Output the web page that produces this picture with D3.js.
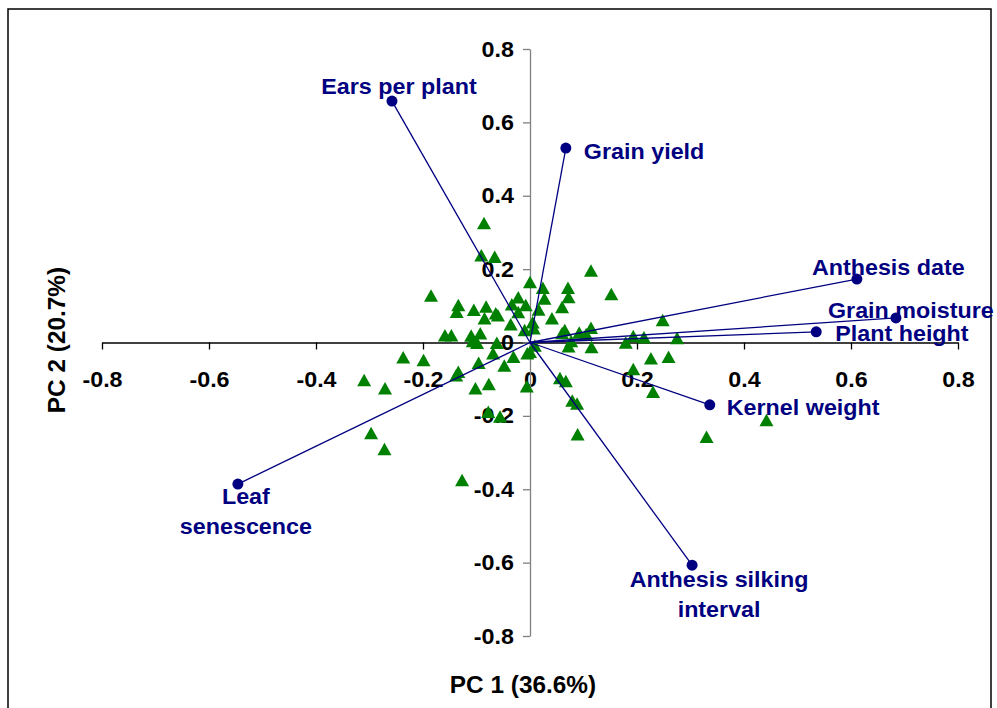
<!DOCTYPE html>
<html>
<head>
<meta charset="utf-8">
<script src="https://cdn.jsdelivr.net/npm/d3@7"></script>
<style>
  body { margin: 0; background: #fff; }
  svg { display: block; font-family: Arial, "Liberation Sans", sans-serif; font-weight: bold; }
</style>
</head>
<body>
<svg width="997" height="708"></svg>
<script>
// trait loadings (PC1, PC2)
const traits = ['Ears per plant', 'Grain yield', 'Anthesis date', 'Grain moisture',
  'Plant height', 'Kernel weight', 'Anthesis silking interval', 'Leaf senescence'];
const loadPC1 = [-0.258, 0.067, 0.611, 0.684, 0.535, 0.336, 0.303, -0.546];
const loadPC2 = [0.658, 0.530, 0.173, 0.067, 0.029, -0.170, -0.607, -0.386];

// genotype scores
const scorePC1 = [-0.086, -0.091, -0.066, 0.114, 0.000, 0.024, 0.071, 0.152, -0.185, 0.072,
  0.027, -0.022, -0.034, -0.008, -0.134, -0.082, -0.105, -0.137, 0.060, 0.016,
  -0.064, -0.060, -0.022, -0.085, 0.041, 0.005, -0.036, -0.010, 0.007, 0.060,
  0.065, 0.092, 0.114, 0.105, -0.159, -0.147, -0.110, -0.093, -0.107, -0.099,
  -0.062, 0.077, 0.072, 0.115, 0.179, 0.193, 0.213, 0.248, 0.275, 0.000,
  0.009, -0.005, -0.237, -0.199, -0.069, -0.031, -0.096, -0.048, -0.134, -0.138,
  -0.310, -0.271, -0.102, -0.077, -0.006, 0.056, 0.067, 0.193, 0.226, 0.259,
  0.230, 0.079, 0.088, -0.078, -0.056, -0.297, -0.272, -0.127, 0.089, 0.330, 0.442];
const scorePC2 = [0.326, 0.238, 0.234, 0.196, 0.165, 0.149, 0.149, 0.132, 0.128, 0.124,
  0.120, 0.123, 0.104, 0.102, 0.102, 0.098, 0.089, 0.084, 0.097, 0.090,
  0.080, 0.074, 0.083, 0.066, 0.066, 0.055, 0.050, 0.034, 0.039, 0.026,
  0.034, 0.027, 0.040, 0.023, 0.020, 0.020, 0.019, 0.025, 0.004, -0.001,
  -0.001, 0.004, -0.010, -0.012, 0.000, 0.018, 0.014, 0.061, 0.012, -0.025,
  -0.008, -0.029, -0.040, -0.048, -0.029, -0.039, -0.055, -0.063, -0.080, -0.089,
  -0.102, -0.125, -0.125, -0.113, -0.119, -0.097, -0.105, -0.072, -0.043, -0.039,
  -0.134, -0.158, -0.166, -0.189, -0.202, -0.247, -0.290, -0.375, -0.250, -0.257, -0.211];

const tickVals = [-0.8, -0.6, -0.4, -0.2, 0, 0.2, 0.4, 0.6, 0.8];

// label placement relative to each loading point (px)
const labelPos = {
  'Ears per plant': { dx: 7, dy: -7, anchor: 'middle', lines: ['Ears per plant'] },
  'Grain yield': { dx: 18, dy: 11, anchor: 'start', lines: ['Grain yield'] },
  'Anthesis date': { dx: -45, dy: -4, anchor: 'start', lines: ['Anthesis date'] },
  'Grain moisture': { dx: -68, dy: 0, anchor: 'start', lines: ['Grain moisture'] },
  'Plant height': { dx: 19, dy: 9, anchor: 'start', lines: ['Plant height'] },
  'Kernel weight': { dx: 17, dy: 10, anchor: 'start', lines: ['Kernel weight'] },
  'Anthesis silking interval': { dx: 27, dy: 22, anchor: 'middle', lines: ['Anthesis silking', 'interval'] },
  'Leaf senescence': { dx: 8, dy: 20, anchor: 'middle', lines: ['Leaf', 'senescence'] }
};

const svg = d3.select('svg');
const navy = '#000080';
const green = '#008000';
const stretch = 1.06;   // text in the original is a bit wider than Arial

const x = d3.scaleLinear().domain([-0.8, 0.8]).range([102, 958]);
const y = d3.scaleLinear().domain([-0.8, 0.8]).range([636, 49]);

// outer frame
svg.append('rect')
  .attr('x', 8).attr('y', 9)
  .attr('width', 983).attr('height', 720)
  .attr('fill', 'none').attr('stroke', '#000').attr('stroke-width', 1.5);

const fmt = d => d === 0 ? '0' : d.toFixed(1);

// x axis through origin
const xAxis = svg.append('g')
  .attr('transform', `translate(0,${y(0)})`)
  .call(d3.axisBottom(x).tickValues(tickVals).tickFormat(fmt).tickSize(7).tickSizeOuter(0).tickPadding(22));
xAxis.select('.domain').attr('stroke', '#000').attr('stroke-width', 1.3);
xAxis.selectAll('.tick line').attr('stroke', '#000').attr('stroke-width', 1.3);
xAxis.selectAll('text')
  .attr('font-size', 22).attr('font-family', null).attr('fill', '#000')
  .attr('transform', `scale(${stretch},1)`);

// y axis through origin
const yAxis = svg.append('g')
  .attr('transform', `translate(${x(0)},0)`)
  .call(d3.axisLeft(y).tickValues(tickVals).tickFormat(fmt).tickSize(7).tickSizeOuter(0).tickPadding(10));
yAxis.select('.domain').attr('stroke', '#808080').attr('stroke-width', 1.3);
yAxis.selectAll('.tick line').attr('stroke', '#808080').attr('stroke-width', 1.3);
yAxis.selectAll('text')
  .attr('font-size', 22).attr('font-family', null).attr('fill', '#000')
  .attr('x', -16 / stretch)
  .attr('transform', `scale(${stretch},1)`);

// axis titles
svg.append('text')
  .attr('transform', `translate(523,693) scale(${stretch},1)`)
  .attr('text-anchor', 'middle').attr('font-size', 23)
  .text('PC 1 (36.6%)');
svg.append('text')
  .attr('transform', `translate(65,340) rotate(-90) scale(${stretch},1)`)
  .attr('text-anchor', 'middle').attr('font-size', 23)
  .text('PC 2 (20.7%)');

// genotype triangles
const scores = scorePC1.map((v, i) => ({ pc1: v, pc2: scorePC2[i] }));
const tw = 14, th = 12.5;
svg.append('g').selectAll('path')
  .data(scores)
  .enter().append('path')
    .attr('d', `M0,${-th / 2}L${tw / 2},${th / 2}L${-tw / 2},${th / 2}Z`)
    .attr('transform', d => `translate(${x(d.pc1)},${y(d.pc2)})`)
    .attr('fill', green);

// loading vectors
const loads = traits.map((t, i) => ({ name: t, pc1: loadPC1[i], pc2: loadPC2[i] }));
const vec = svg.append('g');
vec.selectAll('line')
  .data(loads)
  .enter().append('line')
    .attr('x1', x(0)).attr('y1', y(0))
    .attr('x2', d => x(d.pc1)).attr('y2', d => y(d.pc2))
    .attr('stroke', navy).attr('stroke-width', 1.3);
vec.selectAll('circle')
  .data(loads)
  .enter().append('circle')
    .attr('cx', d => x(d.pc1)).attr('cy', d => y(d.pc2))
    .attr('r', 5.5).attr('fill', navy);

const labels = vec.selectAll('text.lbl')
  .data(loads)
  .enter().append('text')
    .attr('class', 'lbl')
    .attr('font-size', 22)
    .attr('fill', navy)
    .attr('text-anchor', d => labelPos[d.name].anchor)
    .attr('transform', d => {
      const p = labelPos[d.name];
      return `translate(${x(d.pc1) + p.dx},${y(d.pc2) + p.dy}) scale(${stretch},1)`;
    });
labels.each(function (d) {
  const p = labelPos[d.name];
  d3.select(this).selectAll('tspan')
    .data(p.lines)
    .enter().append('tspan')
      .attr('x', 0)
      .attr('y', (l, i) => i * 30)
      .text(l => l);
});
</script>
</body>
</html>
